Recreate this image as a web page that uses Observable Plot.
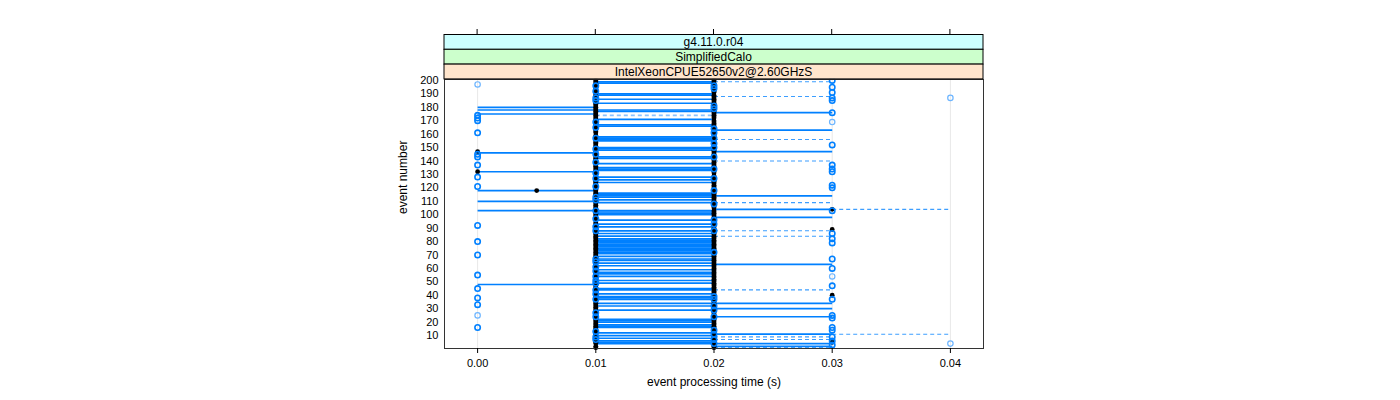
<!DOCTYPE html>
<html>
<head>
<meta charset="utf-8">
<script src="https://cdn.jsdelivr.net/npm/d3@7"></script>
<script src="https://cdn.jsdelivr.net/npm/@observablehq/plot@0.6"></script>
<style>
  html, body { margin: 0; padding: 0; background: #fff; }
  #chart { width: 1400px; height: 400px; }
  svg { font-family: "Liberation Sans", Arial, sans-serif; }
</style>
</head>
<body>
<div id="chart"></div>
<script>
// ---------------- data ----------------
const stripLabels = ["g4.11.0.r04", "SimplifiedCalo", "IntelXeonCPUE52650v2@2.60GHzS"];
const stripColors = ["#ccffff", "#ccffcc", "#ffe5cc"];
const xTicks = [0, 0.01, 0.02, 0.03, 0.04];
const yTicks = [10, 20, 30, 40, 50, 60, 70, 80, 90, 100, 110, 120, 130, 140, 150, 160, 170, 180, 190, 200];

// horizontal connections (event number) between two processing times
const solid_000_010 = [180, 178, 175, 146, 132, 118, 110, 103, 48];
const solid_010_020 = [199, 198, 190, 189, 186, 183, 178, 177, 171, 167, 166, 158, 157, 156, 155, 150, 149, 148, 143, 142, 138, 135, 134, 133, 128, 126, 124, 116, 115, 114, 113, 111, 109, 103, 102, 101, 100, 96, 93, 91, 88, 86, 84, 82, 81, 80, 79, 78, 77, 76, 75, 74, 73, 72, 71, 69, 67, 66, 64, 62, 59, 57, 56, 54, 51, 49, 45, 44, 41, 39, 38, 37, 34, 32, 29, 22, 21, 20, 18, 17, 16, 12, 10, 8, 6, 5, 4];
const solid_020_030 = [176, 163, 147, 114, 104, 98, 63, 34, 30, 24, 11, 4, 2];
const dashed_010_020 = [174];
const dashed_020_030 = [199, 188, 156, 140, 109, 88, 84, 44, 9, 7, 1];
const dashed_030_040 = [104, 11];

// open circles (event numbers) by processing time
const circ_000 = [174, 172, 170, 161, 145, 143, 137, 128, 121, 92, 80, 70, 55, 45, 38, 33, 16];
const circ_010 = [196, 192, 187, 185, 169, 165, 157, 149, 145, 139, 131, 127, 121, 113, 111, 103, 97, 91, 88, 67, 65, 61, 58, 54, 51, 49, 44, 41, 37, 27, 24, 13, 9, 7];
const circ_020 = [196, 194, 181, 179, 164, 161, 157, 153, 150, 143, 134, 127, 118, 108, 96, 93, 88, 72, 39, 37, 32, 29, 24, 14, 11, 7, 4];
const circ_030 = [200, 195, 191, 187, 185, 176, 152, 137, 134, 132, 122, 120, 103, 86, 82, 79, 67, 60, 47, 37, 25, 23, 16, 14, 9, 6, 3];
const circLight_000 = [197, 25];
const circLight_030 = [169, 54];
const circLight_040 = [187, 4];

// black filled dots (event numbers) by processing time
const black_000 = [147, 132];
const black_005 = [118];
const black_010 = [1, 2, 4, 5, 6, 7, 8, 9, 10, 11, 12, 13, 14, 15, 16, 17, 18, 19, 20, 21, 22, 23, 24, 25, 26, 27, 29, 30, 31, 32, 33, 34, 35, 36, 37, 38, 39, 40, 41, 42, 43, 44, 45, 46, 47, 48, 49, 50, 51, 52, 53, 54, 55, 56, 57, 58, 59, 60, 61, 62, 63, 64, 65, 66, 67, 68, 69, 70, 71, 72, 73, 74, 75, 76, 77, 78, 79, 80, 81, 82, 83, 84, 85, 86, 87, 88, 89, 90, 91, 92, 93, 94, 96, 97, 98, 99, 100, 101, 102, 103, 104, 105, 106, 107, 108, 109, 110, 111, 112, 113, 114, 115, 116, 117, 118, 119, 120, 121, 122, 123, 124, 125, 126, 127, 128, 129, 130, 131, 132, 133, 134, 135, 136, 137, 138, 139, 140, 141, 142, 143, 144, 145, 146, 147, 148, 149, 150, 151, 152, 153, 154, 155, 156, 157, 158, 159, 161, 162, 163, 164, 165, 166, 167, 168, 169, 170, 171, 172, 173, 174, 175, 176, 177, 178, 179, 180, 181, 182, 183, 184, 185, 186, 187, 188, 189, 190, 191, 192, 193, 194, 195, 196, 197, 198, 199, 200];
const black_020 = [1, 2, 3, 4, 5, 6, 7, 8, 9, 10, 11, 12, 13, 14, 15, 16, 17, 18, 19, 20, 21, 22, 23, 24, 25, 26, 27, 28, 29, 30, 31, 32, 33, 34, 35, 36, 37, 38, 39, 41, 42, 43, 44, 45, 46, 47, 48, 49, 50, 51, 52, 53, 54, 55, 56, 57, 58, 59, 60, 61, 62, 63, 64, 65, 66, 67, 68, 69, 70, 71, 72, 73, 74, 75, 76, 77, 78, 79, 80, 81, 82, 83, 84, 85, 86, 87, 88, 90, 91, 92, 93, 94, 95, 96, 97, 98, 99, 100, 101, 102, 103, 105, 106, 107, 108, 109, 110, 111, 112, 113, 114, 115, 116, 117, 118, 119, 120, 121, 122, 123, 124, 125, 126, 127, 128, 129, 131, 132, 133, 134, 135, 136, 137, 138, 139, 140, 141, 142, 143, 144, 145, 146, 147, 148, 149, 151, 152, 153, 154, 155, 156, 157, 158, 159, 160, 161, 162, 163, 164, 165, 166, 167, 168, 169, 170, 172, 173, 174, 175, 176, 177, 178, 179, 180, 181, 182, 183, 184, 185, 186, 187, 188, 189, 191, 192, 193, 194, 195, 196, 197, 198, 199, 200];
const black_030 = [104, 89, 40, 5];

// ---------------- build tables ----------------
const seg = (list, x1, x2) => list.map(e => ({e, x1, x2}));
const pts = (list, x) => list.map(e => ({e, x}));

const solidSegs = [...seg(solid_000_010, 0, 0.01), ...seg(solid_010_020, 0.01, 0.02), ...seg(solid_020_030, 0.02, 0.03)];
const dashedLightSegs = seg(dashed_010_020, 0.01, 0.02);
const dashedSegs = [...seg(dashed_020_030, 0.02, 0.03), ...seg(dashed_030_040, 0.03, 0.04)];
const darkCircles = [...pts(circ_000, 0), ...pts(circ_010, 0.01), ...pts(circ_020, 0.02), ...pts(circ_030, 0.03)];
const lightCircles = [...pts(circLight_000, 0), ...pts(circLight_030, 0.03), ...pts(circLight_040, 0.04)];
const blackDots = [...pts(black_000, 0), ...pts(black_005, 0.005), ...pts(black_010, 0.01), ...pts(black_020, 0.02), ...pts(black_030, 0.03)];

const blue = "#0080ff";
const fmt = d3.format(".2f");

const plot = Plot.plot({
  width: 1400,
  height: 400,
  marginLeft: 444,
  marginRight: 417,
  marginTop: 79,
  marginBottom: 52,
  style: {fontFamily: "'Liberation Sans', Arial, sans-serif", fontSize: "11px", color: "#000", background: "#fff"},
  x: {domain: [-0.0028, 0.0428]},
  y: {domain: [0.35, 200.7]},
  marks: [
    Plot.ruleX(xTicks, {stroke: "#e8e8e8", strokeWidth: 1}),
    Plot.link(solidSegs, {x1: "x1", x2: "x2", y1: "e", y2: "e", stroke: blue, strokeWidth: 1.7}),
    Plot.link(dashedLightSegs, {x1: "x1", x2: "x2", y1: "e", y2: "e", stroke: "#8cc2ff", strokeWidth: 1.6, strokeDasharray: "4,3"}),
    Plot.link(dashedSegs, {x1: "x1", x2: "x2", y1: "e", y2: "e", stroke: "#3d9eff", strokeWidth: 1.1, strokeDasharray: "4,3"}),
    Plot.dot(blackDots, {x: "x", y: "e", r: 2.4, fill: "#000", stroke: "none"}),
    Plot.dot(darkCircles, {x: "x", y: "e", r: 2.7, fill: "none", stroke: blue, strokeWidth: 1.6}),
    Plot.dot(lightCircles, {x: "x", y: "e", r: 2.7, fill: "none", stroke: "#6db5ff", strokeWidth: 1.2}),
    Plot.frame({stroke: "#333", strokeWidth: 1}),
    Plot.axisX(xTicks, {anchor: "bottom", tickFormat: fmt, tickSize: 5, tickPadding: 6, label: null, fontSize: 11}),
    Plot.axisY(yTicks, {anchor: "left", tickSize: 0, tickPadding: 6, label: null, fontSize: 11}),
    Plot.text(["event processing time (s)"], {frameAnchor: "bottom", dy: 37, fontSize: 12, fill: "#000"}),
    Plot.text(["event number"], {frameAnchor: "left", dx: -41, rotate: -90, fontSize: 12, fill: "#000"})
  ]
});

document.getElementById("chart").appendChild(plot);

// ---------------- strips and top ticks ----------------
const xs = plot.scale("x");
const [x0, x1] = xs.range;
const svg = d3.select(plot);
const g = svg.append("g");
const stripTop = 34.5, stripH = 14.8;
stripLabels.forEach((lab, i) => {
  const y = stripTop + i * stripH;
  g.append("rect").attr("x", x0).attr("y", y).attr("width", x1 - x0).attr("height", stripH)
    .attr("fill", stripColors[i]).attr("stroke", "#000").attr("stroke-width", 1);
  g.append("text").attr("x", (x0 + x1) / 2).attr("y", y + stripH / 2).attr("dy", "0.36em")
    .attr("text-anchor", "middle").attr("font-size", 12).attr("fill", "#000").text(lab);
});
xTicks.forEach(t => {
  const x = xs.apply(t);
  g.append("line").attr("x1", x).attr("x2", x).attr("y1", stripTop - 5.5).attr("y2", stripTop)
    .attr("stroke", "#000").attr("stroke-width", 1);
});
</script>
</body>
</html>
